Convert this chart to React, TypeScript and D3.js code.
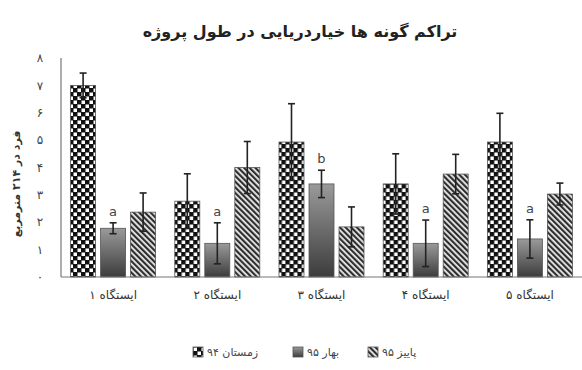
import React from "react";
import * as d3 from "d3";

const categories = ["ایستگاه ۱", "ایستگاه ۲", "ایستگاه ۳", "ایستگاه ۴", "ایستگاه ۵"];
const seriesNames = ["زمستان ۹۴", "بهار ۹۵", "پاییز ۹۵"];
const winter94 = [7.0, 2.77, 4.93, 3.4, 4.93];
const spring95 = [1.78, 1.23, 3.4, 1.23, 1.39];
const autumn95 = [2.37, 4.0, 1.83, 3.76, 3.03];
const winter94Err = [0.45, 1.0, 1.4, 1.1, 1.05];
const spring95Err = [0.2, 0.75, 0.5, 0.85, 0.7];
const autumn95Err = [0.7, 0.95, 0.73, 0.72, 0.4];
const springLetters = ["a", "a", "b", "a", "a"];
const yTicks = [0, 1, 2, 3, 4, 5, 6, 7, 8];
const yTickLabels = ["۰", "۱", "۲", "۳", "۴", "۵", "۶", "۷", "۸"];
const title = "تراکم گونه ها خیاردریایی در طول پروژه";
const yTitle = "فرد در ۲۱۴ مترمربع";

const W = 582;
const H = 370;
const FONT = "'DejaVu Sans', sans-serif";

export default function App() {
  const x0 = d3.scaleBand<string>().domain(categories).range([61, 582]).padding(0);
  const x1 = d3
    .scaleBand<string>()
    .domain(seriesNames)
    .range([0, x0.bandwidth()])
    .paddingInner(0.167)
    .paddingOuter(0.32);
  const y = d3.scaleLinear().domain([0, 8]).range([277, 58]);

  const values = [winter94, spring95, autumn95];
  const errs = [winter94Err, spring95Err, autumn95Err];
  const fills = ["url(#checker)", "url(#grad)", "url(#hatch)"];
  const bw = x1.bandwidth();

  const legendX = [193, 293, 368];

  return (
    <svg
      width={W}
      height={H}
      style={{ position: "absolute", left: 0, top: 0, background: "#fff" }}
      fontFamily={FONT}
    >
      <defs>
        <pattern id="checker" width="8" height="8" patternUnits="userSpaceOnUse">
          <rect width="8" height="8" fill="#111" />
          <rect x="0.5" y="0.5" width="3.5" height="3.5" fill="#fff" />
          <rect x="4.5" y="4.5" width="3.5" height="3.5" fill="#fff" />
        </pattern>
        <linearGradient id="grad" x1="0" y1="0" x2="0" y2="1">
          <stop offset="0%" stopColor="#9a9a9a" />
          <stop offset="100%" stopColor="#3c3c3c" />
        </linearGradient>
        <pattern
          id="hatch"
          width="4"
          height="4"
          patternUnits="userSpaceOnUse"
          patternTransform="rotate(-45)"
        >
          <rect width="4" height="4" fill="#eee" />
          <rect width="2.2" height="4" fill="#2e2e2e" />
        </pattern>
      </defs>

      <text
        x={300}
        y={37}
        textAnchor="middle"
        fontSize={16}
        fontWeight="bold"
        fill="#222"
      >
        {title}
      </text>

      {yTicks.map((t, i) => (
        <text
          key={t}
          x={40}
          y={y(t)}
          dy="0.35em"
          textAnchor="middle"
          fontSize={12}
          fill="#444"
        >
          {yTickLabels[i]}
        </text>
      ))}

      <text
        transform={`translate(20,${y(3.4)}) rotate(-90)`}
        textAnchor="middle"
        fontSize={11}
        fontWeight="bold"
        fill="#333"
      >
        {yTitle}
      </text>

      {categories.map((c, ci) => (
        <g key={c} transform={`translate(${x0(c)},0)`}>
          {seriesNames.map((s, si) => {
            const v = values[si][ci];
            const e = errs[si][ci];
            const bx = x1(s)!;
            const cx = bx + bw / 2;
            return (
              <g key={s}>
                <rect
                  x={bx}
                  y={y(v)}
                  width={bw}
                  height={y(0) - y(v)}
                  fill={fills[si]}
                  stroke="#555"
                  strokeWidth={0.8}
                />
                <line x1={cx} x2={cx} y1={y(v - e)} y2={y(v + e)} stroke="#222" strokeWidth={1.6} />
                <line x1={cx - 3.5} x2={cx + 3.5} y1={y(v + e)} y2={y(v + e)} stroke="#222" strokeWidth={1.6} />
                <line x1={cx - 3.5} x2={cx + 3.5} y1={y(v - e)} y2={y(v - e)} stroke="#222" strokeWidth={1.6} />
                {si === 1 && (
                  <text
                    x={cx}
                    y={y(v + e) - 7}
                    textAnchor="middle"
                    fontSize={13}
                    fill="#444"
                  >
                    {springLetters[ci]}
                  </text>
                )}
              </g>
            );
          })}
        </g>
      ))}

      <line x1={61} x2={61} y1={58} y2={277} stroke="#777" strokeWidth={1.2} />
      <line x1={61} x2={582} y1={277} y2={277} stroke="#777" strokeWidth={1.2} />

      {categories.map((c) => (
        <text
          key={c}
          x={x0(c)! + x0.bandwidth() / 2}
          y={299}
          textAnchor="middle"
          fontSize={12}
          fill="#333"
        >
          {c}
        </text>
      ))}

      {seriesNames.map((s, si) => (
        <g key={s} transform={`translate(${legendX[si]},347)`}>
          <rect width={10} height={10} fill={fills[si]} stroke="#555" strokeWidth={0.8} />
          <text x={14} y={9} fontSize={11} fill="#444">
            {s}
          </text>
        </g>
      ))}
    </svg>
  );
}
